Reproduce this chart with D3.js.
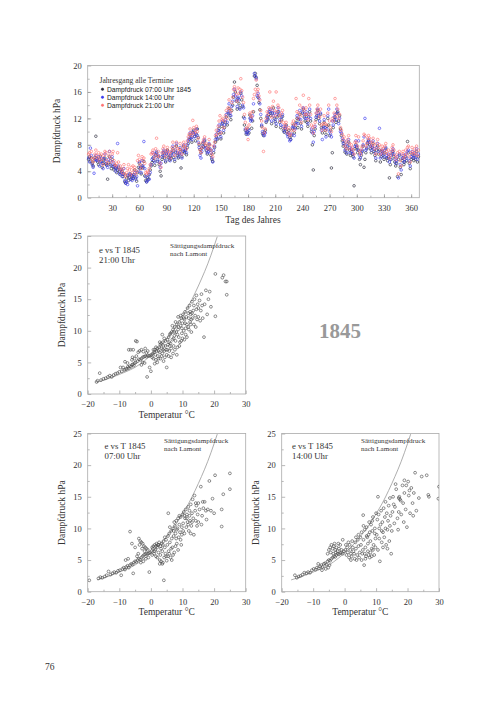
<!DOCTYPE html>
<html>
<head>
<meta charset="utf-8">
<script src="https://cdn.jsdelivr.net/npm/d3@7"></script>
<style>
  body { margin: 0; background: #fff; }
  svg { display: block; }
</style>
</head>
<body>
<script>
// daily vapour pressure 1845 (hPa), first value = day 4
const firstDay = 4;
const e07 = [
  5.8,6.2,5.5,6.0,5.2,4.8,5.6,6.1,9.3,5.9, 5.4,5.0,5.8,6.3,5.5,4.6,5.2,5.7,6.0,5.1,
  4.9,2.8,5.3,6.2,5.0,4.4,5.8,4.7,4.2,4.9, 4.5,3.8,4.2,4.6,3.9,3.5,4.3,4.0,3.2,3.6,
  2.4,2.2,3.0,3.4,2.6,3.1,3.6,2.8,3.3,2.9, 3.5,4.2,3.0,2.5,3.8,4.6,5.2,4.4,3.6,4.8,
  4.5,5.5,3.3,2.6,2.4,3.0,2.8,3.5,4.2,4.8, 5.3,6.0,5.6,4.9,6.4,6.8,5.5,6.2,5.0,4.0,
  3.3,5.8,6.4,6.9,6.0,5.4,6.6,7.2,6.1,5.7, 6.3,5.9,6.8,7.4,6.1,5.5,6.9,7.8,6.4,6.0,
  6.6,7.3,4.5,6.2,7.0,7.8,6.8,7.2,6.5,7.6, 8.2,8.8,9.5,9.0,8.4,9.8,10.2,9.3,8.6,9.6,
  10.4,9.1,8.0,7.3,6.8,7.5,8.2,7.7,8.6,7.9, 7.1,6.6,7.4,8.0,7.2,6.4,5.8,5.5,6.8,7.6,
  8.4,9.2,8.8,9.9,10.5,9.6,8.9,10.8,11.3,9.8, 10.6,11.4,12.2,11.0,12.8,13.5,12.4,11.8,13.2,14.0,
  15.2,17.5,16.0,14.6,13.4,15.0,14.2,13.6,15.8,14.8, 13.8,12.2,11.0,10.2,9.6,9.9,10.4,9.8,12.5,12.0,
  10.5,11.6,13.0,18.4,18.8,18.2,17.0,15.2,14.4,13.3, 12.0,10.8,9.7,9.4,9.9,10.2,11.4,12.2,11.8,12.6,
  13.0,12.4,11.2,12.8,13.6,12.0,11.5,10.8,12.2,13.0, 12.5,11.4,10.6,11.8,12.3,10.2,9.9,10.5,11.0,10.0,
  9.6,10.2,9.1,8.8,9.4,10.4,11.0,9.8,10.6,11.4, 12.0,10.6,11.8,12.6,11.2,10.4,12.8,13.4,12.2,11.6,
  12.6,11.4,10.8,12.2,13.0,11.6,10.0,8.0,4.2,9.4, 10.4,11.8,12.4,13.2,12.0,11.2,12.6,10.6,9.8,10.8,
  11.4,10.2,9.6,10.8,12.0,11.0,9.4,10.2,4.5,6.8, 10.6,11.8,12.2,11.4,12.8,13.0,11.6,12.4,10.4,9.4,
  8.6,7.8,8.2,6.9,7.4,6.6,7.8,8.4,7.2,6.4, 7.0,6.6,6.2,1.8,7.4,8.0,7.6,6.8,7.2,5.8,
  5.0,6.4,7.0,7.8,4.6,5.8,6.8,7.4,8.2,8.6, 8.0,7.4,6.8,7.6,8.2,7.0,6.4,5.6,7.2,7.8,
  6.6,7.2,5.4,6.2,7.0,6.4,5.8,6.8,7.4,6.0, 5.6,6.2,3.0,5.0,5.8,6.6,7.0,6.2,5.4,4.8,
  5.2,3.2,5.8,6.4,4.6,3.5,5.6,6.0,5.0,5.4, 6.2,5.6,8.5,6.8,5.2,4.4,5.8,6.6,6.0,5.6,
  6.4,5.8,7.0,5.4,6.2
];
const e14 = [
  6.0,5.4,7.5,6.4,5.0,4.6,3.7,5.8,6.4,5.6, 5.7,6.2,4.8,5.4,6.0,5.2,4.4,5.9,6.6,5.5,
  5.0,4.6,5.8,7.0,5.6,4.9,6.2,5.4,4.8,4.5, 4.0,4.4,8.2,4.8,3.6,4.2,3.8,3.2,3.6,4.4,
  2.6,2.2,2.4,2.0,3.3,3.6,2.8,3.4,2.6,3.0, 3.4,3.8,2.8,3.2,1.8,4.0,5.4,4.6,3.8,5.6,
  4.8,8.5,4.4,3.2,2.4,2.6,3.4,2.8,3.8,5.0, 5.8,6.8,6.2,5.4,6.6,7.0,5.8,6.4,5.4,4.6,
  5.2,6.2,6.8,7.2,6.4,5.6,6.8,7.0,6.6,6.0, 5.6,6.4,7.0,7.8,6.6,5.8,7.2,8.2,6.8,6.2,
  6.8,7.6,6.6,6.0,7.2,8.0,7.0,7.4,6.8,8.0, 8.6,9.0,9.8,9.2,8.8,10.0,9.6,9.2,9.8,10.4,
  9.4,8.4,7.6,6.4,6.0,7.0,7.8,8.4,8.8,7.4, 7.6,6.8,7.0,8.2,7.4,6.8,6.0,5.4,7.2,7.8,
  8.8,9.6,9.0,10.2,11.0,10.0,9.2,11.2,11.6,10.2, 11.0,11.8,12.6,11.4,13.0,14.2,12.8,12.4,13.8,14.6,
  15.6,16.4,15.4,14.8,13.8,15.2,14.8,13.4,16.0,15.4, 14.0,13.6,12.0,10.4,9.8,10.0,9.6,10.2,12.0,11.6,
  11.8,12.4,14.2,18.8,18.4,18.0,15.4,15.8,15.0,14.2, 12.6,11.0,10.0,9.6,9.4,9.8,11.6,12.4,12.0,13.0,
  13.4,12.8,11.6,13.2,12.4,12.8,11.8,11.2,12.6,13.6, 13.0,11.8,11.0,12.2,12.6,10.8,10.0,10.4,10.8,9.6,
  9.2,9.8,8.6,8.8,9.6,10.6,10.8,9.4,10.4,11.2, 12.4,11.2,12.0,13.2,11.8,10.8,13.0,13.6,12.6,12.0,
  13.0,12.0,11.2,12.6,13.4,12.0,10.4,9.8,8.4,10.0, 10.8,12.2,12.8,13.4,12.4,11.6,12.8,10.2,8.8,10.6,
  11.8,10.6,9.2,10.4,12.4,13.4,10.0,9.6,9.2,11.6, 11.0,12.2,12.6,11.8,13.4,12.8,11.2,12.0,10.0,9.8,
  9.0,8.2,8.6,7.2,7.8,6.8,8.2,8.8,7.6,6.8, 7.4,7.0,6.6,6.0,7.8,8.6,7.8,7.2,8.6,6.4,
  6.0,6.8,7.2,8.0,9.2,12.0,7.2,7.6,8.4,8.8, 8.4,7.8,7.2,7.8,8.6,7.4,6.8,6.0,7.6,8.2,
  7.0,10.5,6.0,6.6,7.2,6.8,6.2,7.2,7.6,6.4, 6.0,6.6,5.4,5.8,6.4,7.0,7.4,6.6,5.8,5.2,
  5.6,6.2,3.0,6.6,5.0,4.2,6.0,6.4,5.4,5.8, 6.6,6.0,7.0,7.2,5.6,4.8,6.2,7.0,6.4,6.0,
  6.8,6.2,7.4,5.8,6.6
];
const e21 = [
  6.6,6.8,6.2,7.0,5.8,5.4,6.0,6.6,7.2,6.4, 6.0,6.8,5.6,6.2,6.6,5.8,5.0,6.4,7.0,6.8,
  5.6,5.2,6.4,7.0,6.0,5.4,6.6,7.0,5.6,5.0, 4.8,5.2,6.8,5.4,4.4,4.8,4.2,3.8,4.4,5.0,
  3.6,3.2,3.8,4.4,5.0,4.2,3.4,4.6,3.8,4.8, 4.2,4.6,3.6,4.0,5.6,6.4,5.8,5.0,4.4,6.2,
  5.6,6.0,5.2,3.8,3.6,4.0,3.8,4.4,5.0,6.6, 6.8,7.2,6.6,6.0,7.4,9.0,6.4,7.0,6.2,5.2,
  4.6,6.8,7.4,7.8,6.8,6.2,7.2,7.6,7.0,6.6, 6.0,7.0,7.6,8.4,7.2,6.4,7.8,8.4,7.4,6.8,
  7.4,8.2,7.2,6.6,7.8,8.4,7.6,8.0,7.4,8.6, 9.2,9.6,10.4,9.8,9.4,11.7,10.6,9.8,10.2,10.8,
  10.0,9.0,8.2,7.2,6.8,7.6,8.4,8.8,9.2,8.0, 8.2,7.4,7.6,8.8,8.0,7.2,6.6,6.2,7.8,8.4,
  9.4,10.2,9.6,10.8,11.6,12.4,9.8,11.8,12.0,10.6, 11.6,12.4,13.2,12.0,13.6,14.8,13.4,13.0,14.4,15.2,
  16.4,16.8,16.2,15.6,14.6,16.6,15.8,16.4,18.0,16.2, 15.2,14.4,12.6,11.4,10.4,10.6,8.8,11.0,12.8,12.4,
  12.2,13.0,15.0,15.6,16.4,17.8,16.0,16.4,15.4,14.8, 13.2,11.6,10.6,7.0,9.8,10.4,12.0,13.0,12.6,13.6,
  16.0,13.4,12.2,13.8,14.6,13.2,12.4,16.0,13.0,14.0, 13.6,12.4,11.6,12.8,13.2,11.4,10.6,11.0,11.4,10.4,
  9.8,10.6,9.4,9.6,10.2,11.2,11.6,10.2,11.0,15.0, 13.0,12.0,12.8,14.0,12.4,11.4,13.6,15.5,13.2,12.6,
  13.6,12.6,11.8,15.0,14.0,12.6,11.0,10.6,9.8,10.8, 11.4,12.8,13.4,14.0,13.0,12.2,13.4,11.0,10.2,11.2,
  12.4,11.2,10.2,11.0,12.8,14.0,11.6,10.6,10.0,12.0, 11.6,12.8,15.0,12.4,14.0,13.4,12.0,12.6,10.6,10.2,
  9.6,8.8,9.2,7.8,8.4,7.4,8.8,9.4,8.2,7.4, 8.0,7.6,7.2,6.6,8.4,9.4,8.4,7.8,9.2,7.0,
  6.6,7.4,7.8,8.6,9.6,9.4,7.8,8.2,9.0,9.4, 9.0,8.4,7.8,8.4,9.0,8.0,7.4,6.6,8.2,8.8,
  7.6,8.0,6.6,7.2,7.8,7.4,6.8,7.8,8.2,7.0, 6.6,7.2,6.0,6.4,7.0,7.6,8.0,7.2,6.4,5.8,
  6.2,6.8,3.6,7.0,5.6,4.8,6.6,7.0,6.0,6.4, 7.2,6.6,7.6,7.8,6.2,5.4,6.8,7.6,7.0,6.6,
  7.4,6.8,7.8,6.4,7.2
];
const seriesNames = ["Dampfdruck 07:00 Uhr 1845", "Dampfdruck 14:00 Uhr", "Dampfdruck 21:00 Uhr"];
const dayTicks = [30, 60, 90, 120, 150, 180, 210, 240, 270, 300, 330, 360];
const eTicksYear = [0, 4, 8, 12, 16, 20];
const tempTicks = [-20, -10, 0, 10, 20, 30];
const eTicks = [0, 5, 10, 15, 20, 25];

// saturation vapour pressure after Lamont [T, e]
const lamont = [[-17,1.86],[-14,2.33],[-11,2.89],[-8,3.5],[-5,4.22],[-2,5.28],[0,6.11],[2,7.05],[4,8.13],
  [6,9.35],[8,10.7],[10,12.3],[12,14.0],[14,16.0],[16,18.2],[18,20.6],[20,23.4],[21,24.9]];

// e vs T points [T degC, e hPa]
const pts21 = [
  [-17.2,1.9],[-16.9,2.1],[-16.2,3.3],[-15.8,2.2],[-15.0,2.4],[-14.3,2.5],[-13.6,2.7],[-13.0,2.9],[-12.4,2.7],[-11.8,3.0],
  [-11.2,3.2],[-10.6,3.3],[-10.0,3.5],[-9.6,4.2],[-9.2,3.6],[-8.8,4.2],[-8.4,3.8],[-8.0,3.9],[-7.6,4.0],[-7.3,4.3],
  [-7.0,4.1],[-6.7,4.4],[-6.3,4.3],[-6.0,4.6],[-5.7,4.7],[-5.4,4.5],[-5.1,4.9],[-4.8,5.0],[-7.0,7.0],[-6.4,7.0],
  [-5.6,7.0],[-4.8,8.4],[-4.4,8.3],[-8.2,5.1],[-7.4,4.9],[-6.0,5.4],[-5.2,5.6],[-4.2,5.2],[-3.8,5.5],[-3.4,5.4],
  [-3.0,5.6],[-2.6,5.8],[-2.2,5.9],[-1.8,6.0],[-1.4,5.9],[-1.0,6.1],[-0.6,6.0],[-0.2,6.1],[0.2,6.2],[-4.0,6.6],
  [-3.6,6.8],[-3.0,7.0],[-2.4,6.7],[-1.8,7.2],[-1.4,6.5],[-1.0,6.8],[-1.2,2.7],[-0.4,4.2],[0.0,3.6],[-3.0,4.6],
  [-2.6,5.0],[-2.0,4.9],[-4.6,6.0],[-5.8,5.8],
  [0.4,5.8],[0.6,6.4],[0.8,5.6],[1.0,6.6],[1.2,7.0],[1.4,6.2],[1.6,5.4],[1.8,6.8],[2.0,7.2],[2.2,6.0],
  [2.4,5.6],[2.6,7.4],[2.8,6.6],[3.0,7.8],[3.2,8.0],[3.4,7.2],[3.6,6.4],[3.8,8.2],[4.0,7.6],[4.2,6.8],
  [4.4,5.8],[4.6,8.4],[4.8,7.0],[5.0,6.2],[3.6,9.4],[4.2,8.8],[1.2,4.8],[2.0,5.0],[3.0,5.6],[4.0,5.2],
  [5.0,4.2],[3.4,6.0],[2.4,6.8],[0.8,7.0],[4.6,7.6],[3.8,7.0],[1.6,7.4],[2.8,8.2],
  [5.2,8.6],[5.4,7.8],[5.6,9.0],[5.8,6.8],[6.0,9.4],[6.2,8.0],[6.4,7.2],[6.6,9.8],[6.8,8.6],[7.0,10.2],
  [7.2,7.6],[7.4,9.2],[7.6,10.6],[7.8,8.4],[8.0,9.8],[8.2,11.0],[8.4,7.4],[8.6,10.2],[8.8,9.0],[9.0,11.4],
  [9.2,8.2],[9.4,10.8],[9.6,12.0],[9.8,9.6],[10.0,11.2],[5.6,6.0],[6.4,5.8],[7.0,6.4],[7.6,7.0],[8.2,6.2],
  [9.0,7.6],[9.6,8.4],[6.0,7.6],[7.2,8.8],[8.4,9.4],[8.6,12.2],[9.4,12.4],[10.0,8.8],[5.8,8.2],[6.8,10.8],
  [7.8,11.4],[8.8,10.6],[9.8,10.4],[6.2,9.6],[7.4,9.8],[5.2,7.0],
  [10.2,12.6],[10.4,10.0],[10.6,11.8],[10.8,13.0],[11.0,9.4],[11.2,12.2],[11.4,11.0],[11.6,13.6],[11.8,10.6],[12.0,12.0],
  [12.2,14.0],[12.4,11.4],[12.6,12.6],[12.8,9.8],[13.0,14.6],[13.2,12.0],[13.4,13.2],[13.6,11.0],[13.8,15.0],[14.0,12.4],
  [14.2,10.6],[14.4,13.4],[14.6,11.8],[14.8,14.2],[15.0,12.2],[10.6,8.6],[11.4,9.0],[12.0,10.2],[12.6,11.0],[13.0,12.8],
  [10.8,11.2],[11.8,12.8],[12.4,13.0],[13.6,14.0],[14.4,15.6],[15.0,13.6],[10.4,12.0],[11.0,10.4],[12.8,11.8],
  [15.4,14.8],[15.8,13.2],[16.0,15.8],[16.4,12.0],[16.8,9.0],[17.0,14.2],[17.4,16.4],[17.8,12.6],[18.2,15.0],[18.6,16.2],
  [19.0,13.8],[20.4,19.0],[20.4,12.3],[22.6,18.4],[23.0,18.8],[23.6,17.8],[24.0,15.7],[24.0,17.8],[15.6,11.6],[16.2,14.0]
];
const pts07 = [
  [-19.5,1.8],[-16.6,2.1],[-16.0,2.3],[-15.4,2.2],[-14.6,2.4],[-14.0,2.6],[-13.4,3.2],[-12.8,2.7],[-12.2,2.9],[-11.6,3.1],
  [-11.0,3.0],[-10.4,3.3],[-9.8,3.4],[-9.4,2.6],[-9.0,3.6],[-8.6,3.8],[-8.2,3.5],[-7.8,3.9],[-7.4,4.1],[-7.0,3.8],
  [-6.6,4.2],[-6.2,4.4],[-5.8,4.3],[-5.6,2.9],[-5.4,4.6],[-5.0,4.8],[-4.6,4.7],[-4.2,5.0],[-3.8,5.2],[-3.4,5.1],
  [-3.0,5.4],[-2.6,5.6],[-2.2,5.8],[-1.8,5.9],[-1.4,6.0],[-1.0,6.0],[-0.6,6.1],[-0.2,6.2],[-6.6,9.5],[-8.0,5.0],
  [-7.2,5.2],[-6.0,7.6],[-5.0,7.0],
  [-3.8,8.4],[-3.4,8.0],[-3.0,7.8],[-2.6,7.6],[-2.2,7.2],[-1.8,7.0],[-1.4,6.8],[-1.0,6.6],[-3.6,7.4],[-2.8,6.8],
  [-2.0,6.4],[-4.0,6.0],[-4.4,5.6],[-3.2,4.6],[-2.4,4.8],[-0.5,3.1],[-0.8,5.4],[-1.6,5.2],
  [0.2,6.4],[0.4,5.8],[0.6,6.8],[0.8,7.2],[1.0,6.0],[1.2,7.4],[1.4,6.6],[1.6,5.6],[1.8,7.6],[2.0,7.0],
  [2.2,7.4],[2.4,6.2],[2.6,7.8],[2.8,5.0],[3.0,7.2],[3.2,4.8],[3.4,7.6],[3.6,6.4],[3.8,4.6],[4.0,8.0],
  [4.2,5.4],[4.1,1.8],[4.4,7.0],[4.6,6.0],[4.8,8.2],[5.0,4.9],[1.6,7.2],[2.4,7.4],[3.2,6.8],[3.8,7.4],
  [2.0,5.4],[3.0,5.8],[4.4,8.6],[0.4,7.0],[1.2,6.4],[2.8,4.4],[3.6,4.4],[4.8,5.6],
  [5.2,7.4],[5.5,12.4],[5.4,8.8],[5.6,6.4],[5.8,9.2],[6.0,7.8],[6.2,5.4],[6.4,9.6],[6.6,8.4],[6.8,7.0],
  [7.0,10.0],[7.2,8.8],[7.4,6.2],[7.6,10.4],[7.8,9.2],[8.0,11.2],[8.2,7.6],[8.4,10.0],[8.6,11.6],[8.8,8.6],
  [9.0,10.6],[9.2,9.4],[9.4,11.8],[9.6,7.4],[9.8,10.2],[10.0,12.2],[5.8,6.0],[6.4,6.8],[7.0,5.8],[7.8,7.2],
  [8.6,6.6],[9.4,8.2],[6.0,10.2],[7.2,9.6],[8.2,9.8],[9.0,12.0],[6.6,5.0],[8.0,8.4],[9.8,9.0],[5.4,5.6],[7.4,11.0],
  [10.2,10.8],[10.4,12.6],[10.6,9.2],[10.8,11.6],[11.0,13.0],[11.2,10.2],[11.4,12.2],[11.6,11.0],[11.8,13.4],[12.0,9.6],
  [12.2,12.0],[12.4,11.2],[12.6,13.8],[12.8,10.4],[13.0,12.4],[13.2,14.6],[13.4,11.6],[13.6,9.0],[13.8,15.2],[14.0,12.8],
  [14.2,11.2],[14.4,13.6],[14.6,10.4],[14.8,12.2],[15.0,14.0],[10.6,12.0],[11.4,11.6],[12.2,12.8],[13.0,11.0],[11.8,10.6],
  [10.2,9.6],[12.6,9.2],[14.2,14.0],[15.0,11.0],
  [15.4,13.0],[15.8,16.6],[16.0,10.6],[16.2,12.0],[16.6,13.2],[17.0,14.2],[17.4,12.8],[18.0,13.0],[18.5,17.5],[19.0,12.8],
  [19.5,14.7],[20.3,18.4],[20.0,12.4],[22.4,13.0],[22.4,10.3],[22.9,15.4],[25.0,18.7],[25.0,16.2],[16.4,14.2],[17.6,11.4]
];
const pts14 = [
  [-15.8,2.6],[-15.2,2.2],[-14.6,2.4],[-14.0,2.5],[-13.4,2.7],[-12.8,3.0],[-12.2,2.9],[-11.6,3.1],[-11.0,3.0],[-10.4,3.4],
  [-9.8,3.6],[-9.2,3.5],[-8.8,3.8],[-8.2,3.7],[-7.8,4.0],[-7.4,4.2],[-7.0,3.9],[-6.6,4.4],[-6.2,4.5],[-5.8,4.3],
  [-5.4,4.8],[-5.0,5.0],[-4.6,4.9],[-4.2,5.2],[-3.8,5.4],[-3.4,5.6],[-3.0,5.5],[-2.6,5.8],[-2.2,6.0],[-1.8,5.9],
  [-1.4,6.1],[-1.0,6.2],[-0.6,6.0],[-0.2,6.4],[-7.2,3.4],[-6.0,3.6],[-5.2,3.8],[-8.4,4.4],[-4.8,4.2],
  [-5.0,6.6],[-4.6,7.0],[-4.2,7.4],[-3.8,6.8],[-3.4,7.2],[-3.0,6.6],[-2.6,7.0],[-2.2,6.4],[-1.8,6.8],[-1.4,7.4],
  [-1.0,6.6],[-0.6,8.2],[-4.4,6.2],[-3.6,6.0],[-2.8,6.2],[-2.0,7.6],[-5.4,6.0],[-3.2,7.6],
  [0.2,6.6],[0.6,5.8],[0.8,7.0],[1.0,6.2],[1.4,5.4],[1.6,7.4],[2.0,6.0],[2.2,5.6],[2.6,7.0],[2.8,6.4],
  [3.2,5.2],[3.4,7.8],[3.6,6.8],[4.0,5.8],[4.2,8.2],[4.4,7.2],[4.8,6.2],[5.0,8.6],[1.2,7.8],[2.4,8.0],
  [3.0,6.0],[3.8,5.0],[4.6,5.4],[0.4,7.4],[1.8,6.6],[4.4,9.0],[3.6,8.6],[2.0,5.0],
  [5.2,7.4],[5.4,9.4],[5.6,6.0],[5.9,12.1],[6.0,8.2],[6.2,4.2],[6.4,9.8],[6.6,7.0],[6.8,5.6],[7.0,10.2],
  [7.2,8.6],[7.4,6.4],[7.6,9.0],[7.8,11.0],[8.0,5.4],[8.2,8.0],[8.4,10.6],[8.6,6.8],[8.8,9.6],[9.0,11.8],
  [9.2,7.4],[9.4,5.8],[9.6,10.0],[9.8,8.4],[10.0,12.4],[5.8,6.6],[6.6,5.2],[7.4,7.6],[8.2,6.2],[9.0,6.6],
  [9.8,7.0],[6.0,10.4],[7.0,8.8],[8.0,9.4],[8.8,11.2],[9.6,9.2],[6.4,6.0],[7.6,5.8],[5.4,5.0],[8.6,5.6],
  [10.2,9.0],[10.4,11.4],[10.6,6.6],[10.8,12.2],[11.0,8.4],[11.2,4.8],[11.4,10.6],[11.6,12.8],[11.8,7.8],[12.0,11.0],
  [12.2,9.4],[12.4,13.2],[12.6,8.6],[12.8,11.8],[13.0,10.0],[13.2,7.4],[13.4,12.4],[13.6,9.8],[13.8,11.2],[14.0,13.6],
  [14.2,8.0],[14.4,10.4],[14.6,12.0],[14.8,6.0],[15.0,9.6],[10.6,15.0],[11.0,10.0],[12.2,7.0],[13.0,14.2],[14.4,14.8],
  [11.8,9.6],[13.6,6.8],
  [15.2,12.6],[15.4,15.0],[15.8,10.8],[16.0,13.4],[16.4,16.2],[16.8,11.6],[17.2,14.8],[17.4,15.0],[17.6,14.6],[17.8,14.4],
  [18.0,12.2],[18.4,16.8],[18.8,11.0],[19.0,15.6],[19.4,13.0],[19.8,10.2],[20.2,17.4],[20.4,15.2],[20.8,12.4],[21.2,16.4],
  [21.6,14.0],[22.0,15.6],[22.4,18.8],[22.8,12.8],[23.6,14.8],[24.5,18.2],[26.1,18.4],[26.6,15.3],[26.8,15.0],[29.8,14.7],
  [30.0,16.6],[16.2,17.0],[17.0,9.8],[18.6,14.0],[19.6,16.8],[20.6,16.0],[21.8,12.0],[15.6,13.8],[17.2,12.6],[19.0,17.6]
];

const W = 504, H = 712;
const serif = '"Liberation Serif", "Times New Roman", serif';
const sans = '"Liberation Sans", Arial, sans-serif';
const frameColor = '#aaa';
const tickFont = 8.5;

const svg = d3.select('body').append('svg')
  .attr('width', W).attr('height', H)
  .attr('font-family', serif);
svg.append('rect').attr('width', W).attr('height', H).attr('fill', '#fff');

// axes with inward ticks, labels in serif
function styleAxis(g) {
  g.select('.domain').remove();
  g.selectAll('line').attr('stroke', '#888').attr('stroke-width', 0.6);
  g.attr('font-family', serif).attr('font-size', tickFont);
  g.selectAll('text').attr('fill', '#333');
}

function drawFrame(x0, x1, y0, y1) {
  svg.append('rect')
    .attr('x', x0).attr('y', y1)
    .attr('width', x1 - x0).attr('height', y0 - y1)
    .attr('fill', 'none').attr('stroke', frameColor).attr('stroke-width', 0.8);
}

function drawAxes(x, y, xMajor, xMinor, yMajor, yMinor, xPad) {
  const [x0, x1] = x.range();
  const [y0, y1] = y.range();
  svg.append('g').attr('transform', `translate(0,${y0})`)
    .call(d3.axisBottom(x).tickValues(xMinor).tickSize(-2).tickFormat(''))
    .call(styleAxis);
  svg.append('g').attr('transform', `translate(0,${y0})`)
    .call(d3.axisBottom(x).tickValues(xMajor).tickSize(-3.5).tickPadding(xPad).tickFormat(d3.format('d')))
    .call(styleAxis);
  svg.append('g').attr('transform', `translate(${x0},0)`)
    .call(d3.axisLeft(y).tickValues(yMinor).tickSize(-2).tickFormat(''))
    .call(styleAxis);
  svg.append('g').attr('transform', `translate(${x0},0)`)
    .call(d3.axisLeft(y).tickValues(yMajor).tickSize(-3.5).tickPadding(6).tickFormat(d3.format('d')))
    .call(styleAxis);
  drawFrame(x0, x1, y0, y1);
}

function vLabel(text, cx, cy) {
  svg.append('text')
    .attr('transform', `translate(${cx},${cy}) rotate(-90)`)
    .attr('text-anchor', 'middle')
    .attr('font-size', 9.5)
    .attr('fill', '#333')
    .text(text);
}

// ---------- annual course ----------
const xDay = d3.scaleLinear().domain([3, 369]).range([87.7, 419.3]);
const yE = d3.scaleLinear().domain([0, 20]).range([197.7, 65.5]);

drawAxes(xDay, yE, dayTicks, d3.range(15, 370, 15), eTicksYear, d3.range(2, 20, 2), 7.5);

const series = [
  { values: e07, color: '#2a2a3a' },
  { values: e14, color: '#3a3af0' },
  { values: e21, color: '#ff7373' }
];

series.forEach(s => {
  svg.append('g').selectAll('circle')
    .data(s.values)
    .join('circle')
    .attr('cx', (d, i) => xDay(firstDay + i))
    .attr('cy', d => yE(d))
    .attr('r', 1.3)
    .attr('fill', 'none')
    .attr('stroke', s.color)
    .attr('stroke-width', 0.65);
});

// legend
svg.append('text').attr('x', 99.5).attr('y', 82.5).attr('font-size', 7.6).attr('fill', '#333')
  .text('Jahresgang alle Termine');
seriesNames.forEach((name, i) => {
  const ly = 91.5 + i * 8;
  svg.append('circle')
    .attr('cx', 102.5).attr('cy', ly - 2.3).attr('r', 1.2)
    .attr('fill', series[i].color).attr('stroke', series[i].color).attr('stroke-width', 0.5);
  svg.append('text')
    .attr('x', 107).attr('y', ly)
    .attr('font-family', sans)
    .attr('font-size', 6.7)
    .attr('fill', '#222')
    .text(name);
});

vLabel('Dampfdruck hPa', 60, 131);
svg.append('text').attr('x', 253).attr('y', 222.5).attr('text-anchor', 'middle')
  .attr('font-size', 9.5).attr('fill', '#333').text('Tag des Jahres');

// ---------- e vs T panels ----------
const panels = [
  { pts: pts21, x0: 87.7, x1: 245.7, y0: 394, y1: 236, term: '21:00 Uhr', tx: 99, ty: 253, sx: 170, sy: 248 },
  { pts: pts07, x0: 87.7, x1: 245.7, y0: 591.7, y1: 433.5, term: '07:00 Uhr', tx: 104.5, ty: 449, sx: 164, sy: 442.5 },
  { pts: pts14, x0: 281.7, x1: 439, y0: 591.7, y1: 433.5, term: '14:00 Uhr', tx: 292, ty: 449, sx: 361, sy: 442.5 }
];

panels.forEach(p => {
  const x = d3.scaleLinear().domain([-20, 30]).range([p.x0, p.x1]);
  const y = d3.scaleLinear().domain([0, 25]).range([p.y0, p.y1]);
  drawAxes(x, y, tempTicks, d3.range(-15, 30, 10), eTicks, d3.range(2.5, 25, 5), 7);

  const clipId = 'clip' + p.term.slice(0, 2);
  svg.append('clipPath').attr('id', clipId)
    .append('rect').attr('x', p.x0).attr('y', p.y1).attr('width', p.x1 - p.x0).attr('height', p.y0 - p.y1);

  const line = d3.line().x(d => x(d[0])).y(d => y(d[1])).curve(d3.curveMonotoneX);
  svg.append('path')
    .attr('d', line(lamont))
    .attr('clip-path', `url(#${clipId})`)
    .attr('fill', 'none').attr('stroke', '#999').attr('stroke-width', 0.8);

  svg.append('g').attr('clip-path', `url(#${clipId})`)
    .selectAll('circle')
    .data(p.pts)
    .join('circle')
    .attr('cx', d => x(d[0]))
    .attr('cy', d => y(d[1]))
    .attr('r', 1.4)
    .attr('fill', 'none')
    .attr('stroke', '#444')
    .attr('stroke-width', 0.6);

  svg.append('text').attr('x', p.tx).attr('y', p.ty).attr('font-size', 8.8).attr('fill', '#333').text('e vs T 1845');
  svg.append('text').attr('x', p.tx).attr('y', p.ty + 9.5).attr('font-size', 8.8).attr('fill', '#333').text(p.term);
  svg.append('text').attr('x', p.sx).attr('y', p.sy).attr('font-size', 7.1).attr('fill', '#333').text('Sättigungsdampfdruck');
  svg.append('text').attr('x', p.sx).attr('y', p.sy + 8).attr('font-size', 7.1).attr('fill', '#333').text('nach Lamont');

  vLabel('Dampfdruck hPa', p.x0 - 23, (p.y0 + p.y1) / 2);
  svg.append('text').attr('x', (p.x0 + p.x1) / 2).attr('y', p.y0 + 23.5).attr('text-anchor', 'middle')
    .attr('font-size', 9.5).attr('fill', '#333').text('Temperatur °C');
});

// big year label and page number
svg.append('text').attr('x', 340).attr('y', 338).attr('text-anchor', 'middle')
  .attr('font-size', 21).attr('font-weight', 'bold').attr('fill', '#999').text('1845');
svg.append('text').attr('x', 45).attr('y', 670).attr('font-size', 9.5).attr('fill', '#333').text('76');
</script>
</body>
</html>
